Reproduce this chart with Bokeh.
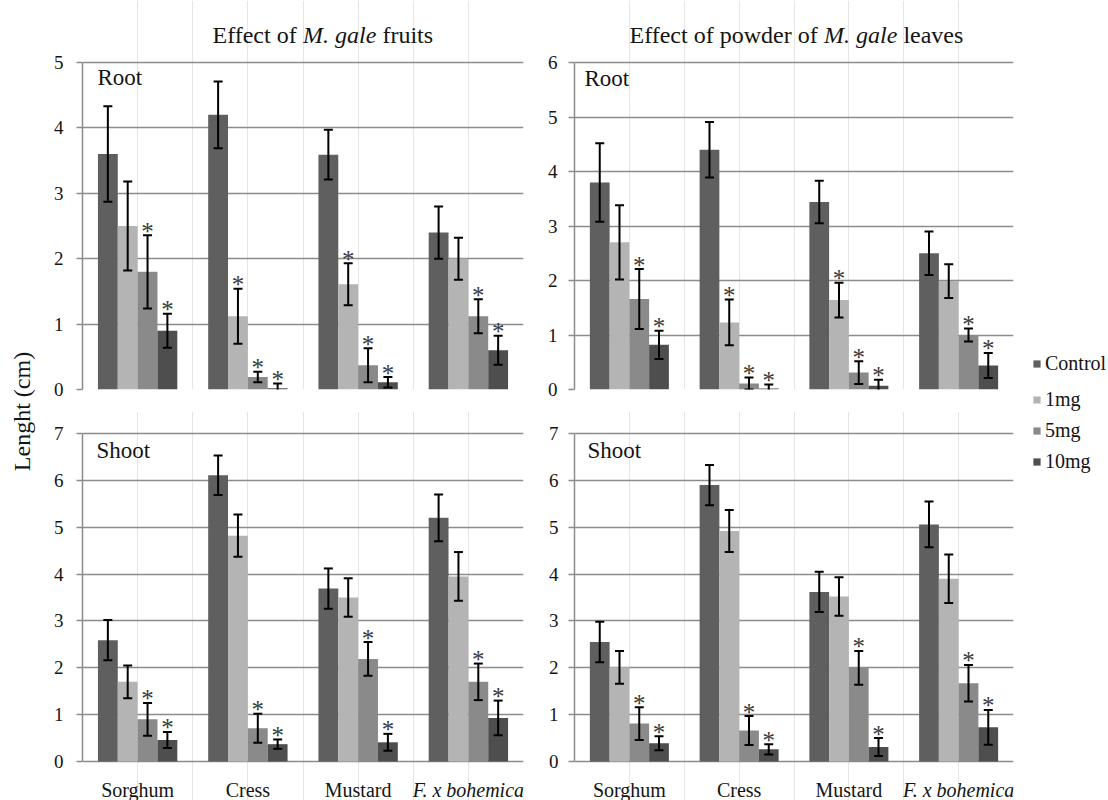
import numpy as np
from bokeh.plotting import figure
from bokeh.models import (ColumnDataSource, Range1d, FixedTicker, Whisker, TeeHead,
                          Label, Legend, LegendItem, GridBox)
from bokeh.core.properties import value
from bokeh.embed import file_html
from bokeh.resources import INLINE

# ---------------- data ----------------
categories = ["Sorghum", "Cress", "Mustard", "F. x bohemica"]
italic_categories = ["F. x bohemica"]
series = ["Control", "1mg", "5mg", "10mg"]
colors = ["#5f5f5f", "#b4b4b4", "#8a8a8a", "#4e4e4e"]

# Root length (cm) - effect of M. gale fruits
root_fruits_control = [3.60, 4.20, 3.59, 2.40]
root_fruits_1mg = [2.50, 1.12, 1.61, 2.00]
root_fruits_5mg = [1.80, 0.19, 0.37, 1.12]
root_fruits_10mg = [0.90, 0.02, 0.11, 0.60]
root_fruits_control_err = [0.73, 0.51, 0.38, 0.40]
root_fruits_1mg_err = [0.68, 0.42, 0.32, 0.32]
root_fruits_5mg_err = [0.56, 0.08, 0.26, 0.26]
root_fruits_10mg_err = [0.26, 0.07, 0.08, 0.22]

# Root length (cm) - effect of powder of M. gale leaves
root_leaves_control = [3.80, 4.40, 3.44, 2.50]
root_leaves_1mg = [2.70, 1.23, 1.64, 1.99]
root_leaves_5mg = [1.66, 0.11, 0.31, 1.00]
root_leaves_10mg = [0.82, 0.02, 0.07, 0.44]
root_leaves_control_err = [0.72, 0.51, 0.39, 0.40]
root_leaves_1mg_err = [0.68, 0.42, 0.32, 0.31]
root_leaves_5mg_err = [0.55, 0.11, 0.21, 0.12]
root_leaves_10mg_err = [0.26, 0.07, 0.11, 0.23]

# Shoot length (cm) - effect of M. gale fruits
shoot_fruits_control = [2.59, 6.11, 3.69, 5.20]
shoot_fruits_1mg = [1.70, 4.82, 3.50, 3.95]
shoot_fruits_5mg = [0.90, 0.71, 2.19, 1.70]
shoot_fruits_10mg = [0.46, 0.37, 0.41, 0.93]
shoot_fruits_control_err = [0.43, 0.42, 0.43, 0.50]
shoot_fruits_1mg_err = [0.35, 0.45, 0.41, 0.52]
shoot_fruits_5mg_err = [0.35, 0.31, 0.36, 0.39]
shoot_fruits_10mg_err = [0.17, 0.10, 0.18, 0.37]

# Shoot length (cm) - effect of powder of M. gale leaves
shoot_leaves_control = [2.55, 5.90, 3.62, 5.06]
shoot_leaves_1mg = [2.01, 4.92, 3.52, 3.90]
shoot_leaves_5mg = [0.81, 0.66, 2.00, 1.67]
shoot_leaves_10mg = [0.39, 0.26, 0.31, 0.73]
shoot_leaves_control_err = [0.43, 0.43, 0.43, 0.49]
shoot_leaves_1mg_err = [0.35, 0.45, 0.41, 0.52]
shoot_leaves_5mg_err = [0.35, 0.31, 0.36, 0.39]
shoot_leaves_10mg_err = [0.15, 0.11, 0.19, 0.37]

# significance markers (*)
root_sig_control = [0, 0, 0, 0]
root_sig_1mg = [0, 1, 1, 0]
root_sig_5mg = [1, 1, 1, 1]
root_sig_10mg = [1, 1, 1, 1]
shoot_sig_control = [0, 0, 0, 0]
shoot_sig_1mg = [0, 0, 0, 0]
shoot_sig_5mg = [1, 1, 1, 1]
shoot_sig_10mg = [1, 1, 1, 1]

root_ticks = [[0, 1, 2, 3, 4, 5], [0, 1, 2, 3, 4, 5, 6]]
shoot_ticks = [0, 1, 2, 3, 4, 5, 6, 7]

# ---------------- style ----------------
FONT = "Liberation Serif"
GRID = "#8c8c8c"
TXT = "#141414"
BAR_W = 0.18
offsets = (np.arange(4) - 1.5) * BAR_W
cat_pos = np.arange(len(categories)) + 0.5

H0, H1 = 411, 389           # row heights
TOP_FRAME_H = H0 - 22       # top panels frame (0 line at bottom)
TOP_SPAN = 327              # px from 0 to max tick (top panels)
BOT_SPAN = 328              # px from 0 to 7 (bottom panels)
BOT_ABOVE, BOT_BELOW = 22, 39


def make_panel(width, height, mb_left, mb_right, mb_bottom, y_start, y_end,
               ticks, standoff, values, errors, sigs):
    p = figure(width=width, height=height, x_range=Range1d(0, len(categories)),
               y_range=Range1d(y_start, y_end), output_backend="svg",
               toolbar_location=None, x_axis_location=None,
               min_border_left=mb_left, min_border_right=mb_right,
               min_border_top=0, min_border_bottom=mb_bottom,
               outline_line_color=None, background_fill_color="white",
               border_fill_color="white")
    ax = p.yaxis[0]
    ticker = FixedTicker(ticks=ticks)
    ax.ticker = ticker
    ax.bounds = (0, ticks[-1])
    ax.axis_line_color = GRID
    ax.axis_line_width = 1.5
    ax.major_tick_line_color = GRID
    ax.major_tick_line_width = 1.5
    ax.major_tick_out = 6
    ax.major_tick_in = 0
    ax.minor_tick_line_color = None
    ax.major_label_text_font = FONT
    ax.major_label_text_font_size = "19px"
    ax.major_label_text_color = TXT
    ax.major_label_standoff = standoff
    p.ygrid.ticker = ticker
    p.ygrid.grid_line_color = GRID
    p.ygrid.grid_line_width = 1.5

    for j in range(len(series)):
        xs = cat_pos + offsets[j]
        v = np.array(values[j])
        e = np.array(errors[j])
        src = ColumnDataSource(dict(x=xs, top=v, upper=v + e, lower=v - e))
        p.vbar(x="x", top="top", bottom=0, width=BAR_W, source=src,
               fill_color=colors[j], line_color=None)
        p.add_layout(Whisker(source=src, base="x", upper="upper", lower="lower",
                             dimension="height", line_color="black", line_width=2,
                             level="overlay",
                             upper_head=TeeHead(size=9, line_color="black", line_width=2),
                             lower_head=TeeHead(size=9, line_color="black", line_width=2)))
        mask = np.array(sigs[j]) == 1
        if mask.any():
            ssrc = ColumnDataSource(dict(x=xs[mask], y=(v + e)[mask],
                                         t=["*"] * int(mask.sum())))
            p.text(x="x", y="y", text="t", source=ssrc, text_align="center",
                   text_baseline="alphabetic", y_offset=-4, level="overlay",
                   text_font=value(FONT), text_font_size="25px", text_color="#3a3a3a")
    return p


def add_label(p, x, y, text, size, style="normal", baseline="alphabetic"):
    p.add_layout(Label(x=x, y=y, x_units="screen", y_units="screen", text=text,
                       text_font=FONT, text_font_size=size, text_font_style=style,
                       text_color=TXT, text_baseline=baseline, text_align="left"))


# ---- top row (Root) ----
tl_ymax, tr_ymax = root_ticks[0][-1], root_ticks[1][-1]
tl = make_panel(487, H0, 34, 12, 22, 0, tl_ymax * TOP_FRAME_H / TOP_SPAN, root_ticks[0], 13,
                [root_fruits_control, root_fruits_1mg, root_fruits_5mg, root_fruits_10mg],
                [root_fruits_control_err, root_fruits_1mg_err, root_fruits_5mg_err, root_fruits_10mg_err],
                [root_sig_control, root_sig_1mg, root_sig_5mg, root_sig_10mg])
tr = make_panel(488, H0, 39, 10, 22, 0, tr_ymax * TOP_FRAME_H / TOP_SPAN, root_ticks[1], 11,
                [root_leaves_control, root_leaves_1mg, root_leaves_5mg, root_leaves_10mg],
                [root_leaves_control_err, root_leaves_1mg_err, root_leaves_5mg_err, root_leaves_10mg_err],
                [root_sig_control, root_sig_1mg, root_sig_5mg, root_sig_10mg])

# ---- bottom row (Shoot) ----
smax = shoot_ticks[-1]
ppu = BOT_SPAN / smax
b_start, b_end = -BOT_BELOW / ppu, smax + BOT_ABOVE / ppu
bl = make_panel(487, H1, 34, 12, 0, b_start, b_end, shoot_ticks, 13,
                [shoot_fruits_control, shoot_fruits_1mg, shoot_fruits_5mg, shoot_fruits_10mg],
                [shoot_fruits_control_err, shoot_fruits_1mg_err, shoot_fruits_5mg_err, shoot_fruits_10mg_err],
                [shoot_sig_control, shoot_sig_1mg, shoot_sig_5mg, shoot_sig_10mg])
br = make_panel(488, H1, 35, 10, 0, b_start, b_end, shoot_ticks, 10,
                [shoot_leaves_control, shoot_leaves_1mg, shoot_leaves_5mg, shoot_leaves_10mg],
                [shoot_leaves_control_err, shoot_leaves_1mg_err, shoot_leaves_5mg_err, shoot_leaves_10mg_err],
                [shoot_sig_control, shoot_sig_1mg, shoot_sig_5mg, shoot_sig_10mg])

# panel texts
add_label(tl, 15, TOP_FRAME_H - 77, "Root", "23px", baseline="middle")
add_label(tr, 10, TOP_FRAME_H - 78, "Root", "23px", baseline="middle")
add_label(bl, 14, H1 - 39, "Shoot", "23px", baseline="middle")
add_label(br, 13, H1 - 39, "Shoot", "23px", baseline="middle")

# titles (mixed upright / italic)
tb = TOP_FRAME_H - 34
add_label(tl, 130, tb, "Effect of", "24px")
add_label(tl, 220.6, tb, "M. gale", "24px", "italic")
add_label(tl, 299.9, tb, "fruits", "24px")
add_label(tr, 55, tb, "Effect of powder of", "24px")
add_label(tr, 249.6, tb, "M. gale", "24px", "italic")
add_label(tr, 328.9, tb, "leaves", "24px")

# category labels under the bottom panels
for p in (bl, br):
    reg = [c for c in categories if c not in italic_categories]
    reg_x = [cat_pos[categories.index(c)] for c in reg]
    it = [c for c in categories if c in italic_categories]
    it_x = [cat_pos[categories.index(c)] for c in it]
    p.text(x=reg_x, y=[0] * len(reg), text=reg, text_align="center", text_baseline="top",
           y_offset=17, text_font=value(FONT), text_font_size="20px", text_color=TXT)
    p.text(x=it_x, y=[0] * len(it), text=it, text_align="center", text_baseline="top",
           y_offset=17, text_font=value(FONT), text_font_size="20px",
           text_font_style="italic", text_color=TXT)

# ---- y label column ----
TOTAL_H = H0 + H1
ylab = figure(width=48, height=TOTAL_H, x_range=Range1d(0, 48), y_range=Range1d(0, TOTAL_H),
              output_backend="svg", toolbar_location=None, x_axis_location=None,
              y_axis_location=None, min_border=0, outline_line_color=None)
ylab.grid.visible = False
ylab.text(x=[21], y=[TOTAL_H - 411], text=["Lenght (cm)"], angle=np.pi / 2,
          text_align="center", text_baseline="middle", text_font=value(FONT),
          text_font_size="24px", text_color=TXT)

# ---- legend column ----
leg = figure(width=85, height=TOTAL_H, x_range=Range1d(0, 1), y_range=Range1d(0, 1),
             output_backend="svg", toolbar_location=None, x_axis_location=None,
             y_axis_location=None, min_border=0, outline_line_color=None)
leg.grid.visible = False
# legend swatches (kept outside the visible range of this helper figure)
dummy = [leg.vbar(x=[-5], top=[-5], bottom=[-6], width=0.1, fill_color=c, line_color=None)
         for c in colors]


def make_legend(idx, loc, spacing):
    lg = Legend(items=[LegendItem(label=series[i], renderers=[dummy[i]]) for i in idx],
                location=loc, orientation="vertical", glyph_width=9, glyph_height=9,
                label_height=24, label_standoff=4, padding=0, margin=0, spacing=spacing,
                border_line_color=None, background_fill_alpha=0,
                label_text_font=FONT, label_text_font_size="20px", label_text_color=TXT)
    leg.add_layout(lg)


make_legend([0, 1], (9, 389), 12)
make_legend([2, 3], (9, 327), 7)

grid = GridBox(children=[
    (ylab, 0, 0, 2, 1),
    (tl, 0, 1), (tr, 0, 2),
    (bl, 1, 1), (br, 1, 2),
    (leg, 0, 3, 2, 1),
])

open("out.html", "w").write(file_html(grid, INLINE))
